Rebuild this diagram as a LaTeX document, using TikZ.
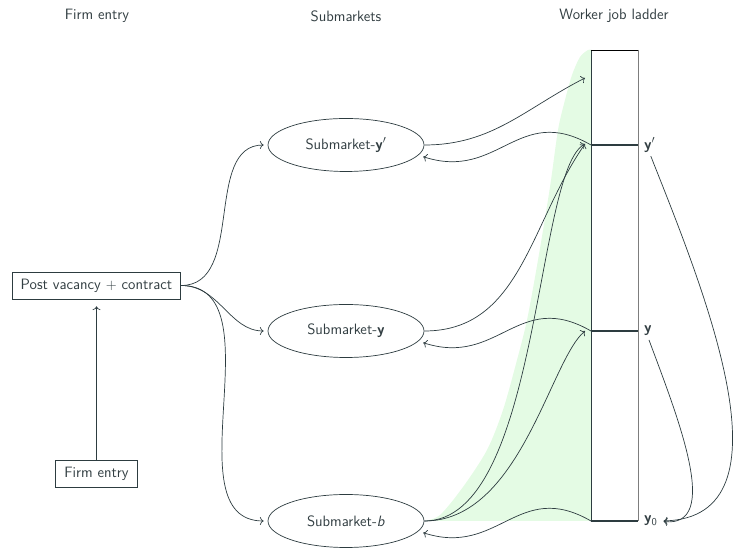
\documentclass[tikz,border=0pt]{standalone}
\usepackage{fontspec}
\usetikzlibrary{shapes.geometric,arrows.meta}
\definecolor{ink}{RGB}{45,60,64}
\definecolor{txt}{RGB}{50,62,66}
\definecolor{greenfill}{RGB}{228,251,228}
\definecolor{rail}{RGB}{125,125,125}
\begin{document}
\begin{tikzpicture}[x=1pt,y=1pt,
  font=\sffamily\fontsize{15}{18}\selectfont, text=txt,
  box/.style={draw=ink, line width=0.7pt, inner xsep=8.5pt, minimum height=27pt},
  sub/.style={ellipse, draw=ink, line width=0.7pt, minimum width=156pt, minimum height=53pt, inner sep=0pt},
  conn/.style={draw=ink, line width=0.7pt, -{To[scale=1.2]}},
  lab/.style={anchor=west, inner sep=1pt},
  rung/.style={draw=ink, line width=2.4pt}]
\useasboundingbox (0,0) rectangle (734,548);

% shaded region
\fill[greenfill] plot[smooth, tension=0.5] coordinates {(424,27) (440,33) (463,61) (487,98) (503,138) (517,188) (527,228) (538,288) (550,361) (558,418) (565,448) (572,473) (580,491) (588,498) (591,498)} -- (591,27) -- cycle;

% titles
\node (t1) at (97,532) {Firm entry};
\node (t2) at (346,532) {Submarkets};
\node (t3) at (614,532) {Worker job ladder};

% firm side
\node[box] (post) at (96.5,262.5) {Post vacancy $+$ contract};
\node[box] (firm) at (96.5,74.5) {Firm entry};

% submarkets
\node[sub] (sub1) at (346,403) {Submarket-\textbf{y}$'$};
\node[sub] (sub2) at (346,217) {Submarket-\textbf{y}};
\node[sub] (sub3) at (346,27) {Submarket-\textit{b}};

% ladder
\draw[rail, line width=0.8pt] (638,498) -- (638,27);
\draw[ink, line width=0.8pt] (591,498) -- (591,27);
\draw[black, line width=0.8pt] (590.6,498) -- (638.4,498);
\coordinate (Lyp) at (591,403);
\coordinate (Ly) at (591,217);
\coordinate (Ly0) at (591,27);
\coordinate (Ryp) at (638,403);
\coordinate (Ry) at (638,217);
\coordinate (Ry0) at (638,27);
\draw[rung] (Lyp) -- (Ryp);
\draw[rung] (Ly) -- (Ry);
\draw[rung] (Ly0) -- (Ry0);
\coordinate (Thi) at (585,470);
\coordinate (Typ) at (585,404);
\coordinate (Ty) at (585,217);

\node[lab] (lyp) at (643,403) {\textbf{y}$'$};
\node[lab] (ly) at (643,217) {\textbf{y}};
\node[lab] (ly0) at (643,27) {\textbf{y}\textsubscript{0}};

% firm entry connectors
\draw[conn, shorten >=7pt] (firm.north) -- (post.south);
\draw[conn, shorten >=4pt] (post.east) to[out=0,in=180] (sub1.west);
\draw[conn, shorten >=4pt] (post.east) to[out=0,in=180] (sub2.west);
\draw[conn, shorten >=4pt] (post.east) to[out=0,in=180] (sub3.west);

% submarkets to ladder
\draw[conn] (sub1.east) to[out=0,in=207] (Thi);
\draw[conn] (sub2.east) to[out=0,in=235] (Typ);
\draw[conn] (sub3.east) .. controls +(116,0) and +(-50,-26) .. (Typ);
\draw[conn] (sub3.east) .. controls +(96,0) and +(-35,-29) .. (Ty);

% ladder back to submarkets
\draw[conn, shorten >=5pt] (Lyp) to[out=150,in=-18,looseness=1.25] (sub1.-8);
\draw[conn, shorten >=5pt] (Ly) to[out=150,in=-18,looseness=1.25] (sub2.-8);
\draw[conn, shorten >=5pt] (Ly0) to[out=150,in=-18,looseness=1.25] (sub3.-8);

% job destruction
\draw[conn, shorten <=3pt, shorten >=5pt] (lyp.south) .. controls (703,260) and (798,30) .. (ly0.east);
\draw[conn, shorten <=3pt, shorten >=5pt] (ly.south) .. controls (678,130) and (722,20) .. (ly0.east);
\end{tikzpicture}
\end{document}
